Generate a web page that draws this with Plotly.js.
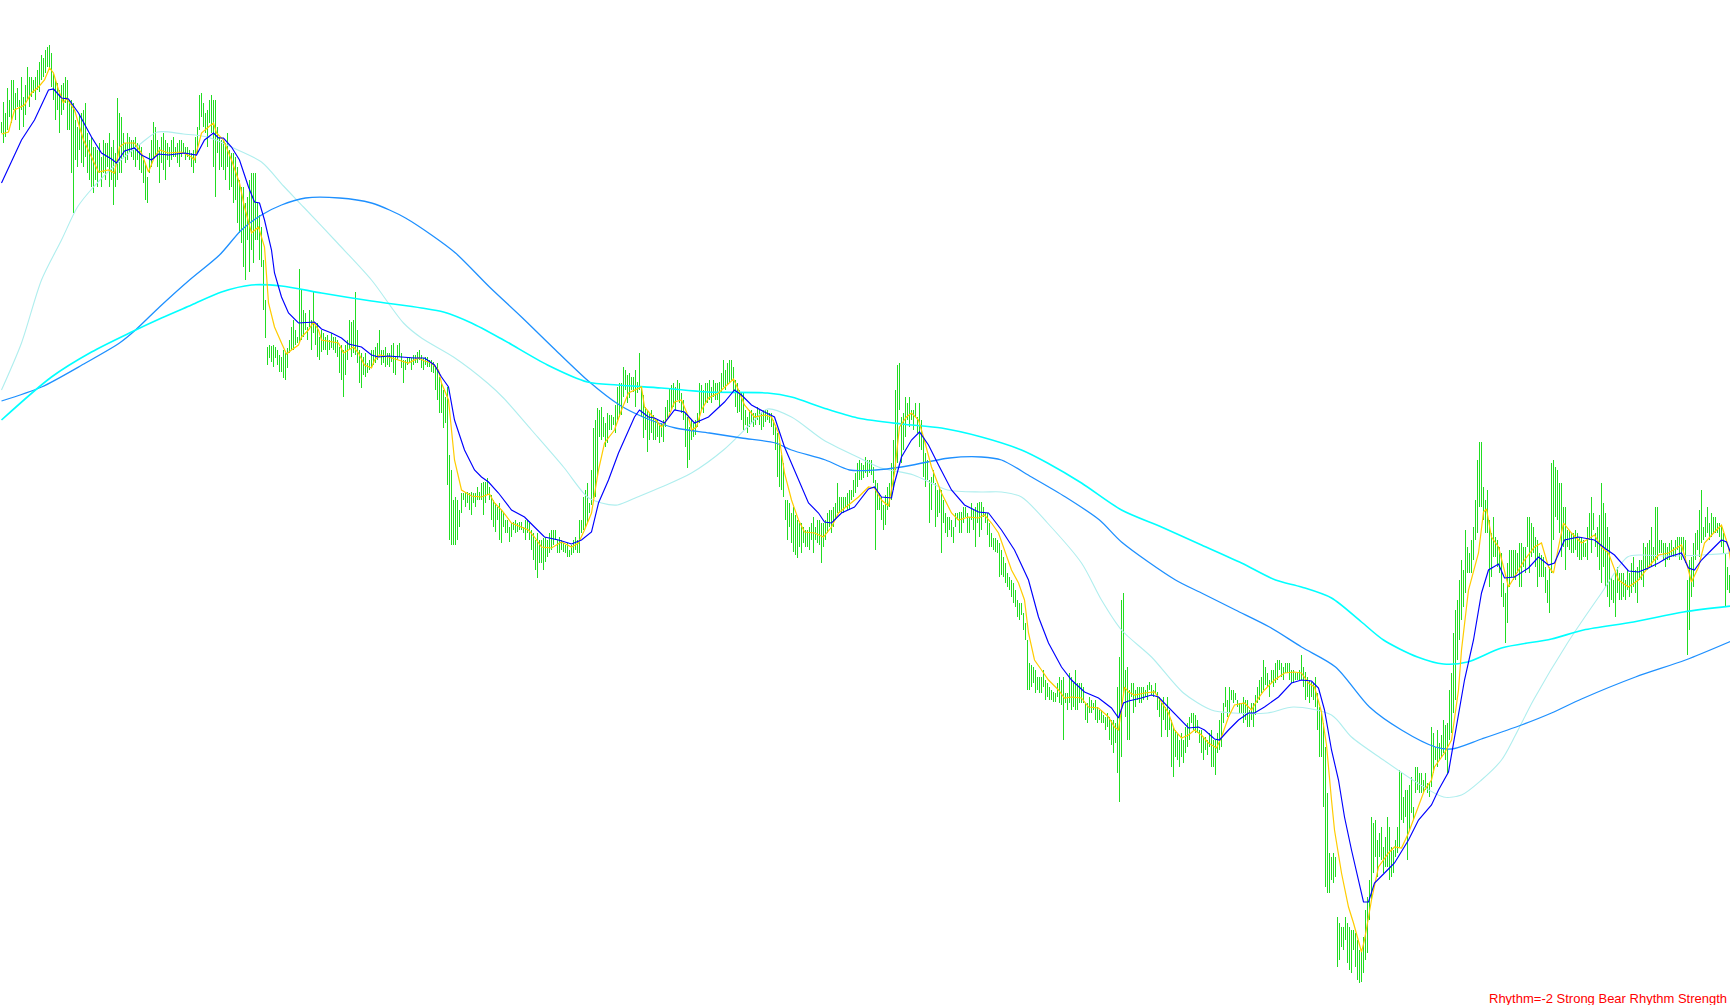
<!DOCTYPE html>
<html><head><meta charset="utf-8">
<script src="https://cdn.plot.ly/plotly-3.0.1.min.js"></script>
<style>html,body{margin:0;padding:0;background:#fff;overflow:hidden}#chart{width:1730px;height:1005px}
#chart .scatterlayer .trace:first-child path.js-line{shape-rendering:crispEdges}</style>
</head><body><div id="chart"></div>
<script>
// price bars: high / low for each bar (bar index = position in array)
const barHigh = [
878,898,887,912,900,920,920,907,912,900,
923,903,915,933,923,923,920,923,930,938,
945,942,950,953,955,947,927,920,917,910,
915,917,923,920,900,900,897,880,873,885,
887,890,897,867,860,863,853,853,850,857,
843,860,857,857,867,853,860,847,902,887,
883,867,857,867,863,860,860,863,857,855,
853,840,837,823,847,860,878,873,860,853,
863,867,860,857,853,860,863,853,857,860,
860,857,853,853,850,847,850,863,873,905,
907,897,887,890,900,905,900,900,873,863,
860,860,857,867,850,847,847,843,833,820,
813,813,797,803,820,827,827,827,797,785,
773,740,700,653,655,654,655,653,650,645,
643,650,647,652,660,673,680,670,663,731,
710,690,687,673,690,680,708,675,677,663,
670,667,663,665,660,667,663,663,660,653,
655,650,655,660,680,678,680,708,670,650,
647,643,647,637,640,650,650,653,657,670,
650,650,653,647,647,655,657,643,655,657,
647,640,640,643,643,642,645,645,648,650,
645,642,643,643,640,640,638,633,637,623,
617,610,603,613,545,530,500,503,500,490,
507,507,508,508,507,508,507,507,513,508,
517,518,518,522,513,505,500,497,493,497,
490,487,480,480,473,477,478,480,477,478,
478,473,480,480,477,470,467,460,467,460,
460,462,463,460,467,470,470,470,460,463,
460,457,455,457,450,455,460,463,460,480,
480,503,510,517,497,530,572,580,592,590,
593,583,577,587,585,585,583,595,613,617,
617,633,630,625,627,623,623,630,618,647,
613,605,593,590,587,590,585,580,580,577,
577,580,593,600,612,615,617,613,620,617,
607,600,587,583,573,580,577,580,587,617,
615,610,617,617,620,613,620,617,617,618,
627,640,630,637,640,640,633,620,617,610,
607,607,590,583,590,590,587,587,593,590,
588,590,590,590,587,587,580,573,567,557,
545,537,500,500,497,487,493,485,480,477,
477,473,470,470,473,477,483,473,480,480,
477,477,480,487,490,490,493,497,517,503,
503,503,503,507,510,510,520,527,537,540,
537,535,543,540,540,540,533,520,517,507,
503,495,505,513,517,537,560,610,635,637,
583,587,603,597,603,590,590,597,583,597,
580,563,547,540,520,523,530,517,510,513,
510,500,487,483,483,480,473,487,487,488,
488,493,493,487,483,497,490,493,497,498,
498,493,487,487,477,467,462,462,460,457,
450,443,437,427,423,420,417,410,400,397,
397,387,377,360,337,335,333,330,323,323,
323,330,320,317,313,310,308,307,317,323,
320,323,307,307,327,323,317,330,317,317,
317,313,297,297,303,300,297,300,293,290,
290,285,283,287,283,280,280,277,313,343,
400,407,330,333,310,317,317,310,313,313,
313,313,310,315,318,315,310,317,308,303,
297,303,293,303,290,280,273,270,267,260,
267,260,273,277,283,287,287,285,280,270,
270,263,263,260,267,270,260,260,267,280,
287,297,313,300,313,310,310,307,300,297,
297,303,300,300,290,297,297,305,313,320,
323,340,333,327,320,330,330,337,340,340,
337,333,337,337,337,330,330,327,327,330,
345,333,328,323,320,318,317,323,307,293,
287,277,253,207,147,143,147,143,83,77,
73,73,83,77,73,70,70,67,60,50,
50,63,90,103,120,183,177,180,160,167,
173,153,163,183,173,153,150,160,173,230,
227,203,210,210,215,223,193,233,233,227,
227,220,227,217,217,273,267,253,270,257,
265,280,275,277,310,327,367,390,400,420,
440,430,470,453,447,460,473,500,540,558,
558,513,500,510,480,467,483,463,460,453,
447,417,407,437,450,450,450,450,447,457,
457,453,453,483,483,477,473,463,460,447,
445,443,433,420,433,537,540,533,530,517,
517,493,493,470,470,467,467,470,467,463,
463,460,457,473,487,503,487,467,473,485,
517,497,487,473,463,423,420,427,433,427,
427,427,420,430,427,437,443,430,433,440,
440,457,453,457,460,473,453,493,493,460,
460,457,457,453,457,460,453,460,463,463,
463,463,460,420,440,443,457,467,470,490,
510,473,483,493,477,487,483,483,477,477,
473,467,447,433,425];
const barLow = [
867,857,863,870,883,877,890,880,893,870,
890,873,885,900,893,903,907,900,910,908,
920,923,927,933,930,913,900,880,890,867,
885,890,897,870,870,827,787,840,833,850,
837,833,843,827,820,813,807,820,813,827,
813,827,820,833,813,820,795,813,820,827,
827,843,837,840,847,843,840,833,840,830,
827,817,800,797,827,833,840,843,833,817,
837,830,820,840,833,840,843,843,837,833,
843,847,840,843,840,833,827,837,847,870,
883,873,867,853,877,867,833,803,847,830,
833,830,820,833,810,813,797,800,777,767,
757,733,720,760,728,750,737,760,760,740,
733,690,662,635,642,638,633,642,635,628,
628,622,620,632,647,650,650,655,657,657,
660,663,670,660,673,650,667,655,643,640,
648,650,650,645,650,652,650,647,643,627,
620,603,625,640,650,643,647,645,637,617,
612,625,623,627,630,633,635,637,640,643,
635,637,633,635,633,638,627,625,640,643,
632,617,630,635,637,630,635,637,637,640,
632,630,635,633,633,628,627,610,600,587,
587,572,577,515,460,455,455,455,460,473,
487,500,493,497,490,485,497,493,500,500,
500,485,497,505,500,480,473,468,480,460,
457,473,467,467,458,463,470,467,468,470,
470,467,460,467,460,450,440,430,422,437,
437,430,438,443,447,450,455,460,447,447,
450,448,447,443,443,445,447,450,447,447,
467,470,473,478,487,495,502,503,523,563,
560,563,553,557,570,570,575,567,580,583,
585,603,610,597,602,610,608,593,607,610,
583,562,570,548,560,567,560,560,563,557,
563,558,573,582,588,590,593,590,600,597,
587,580,553,532,540,560,563,565,573,577,
590,587,597,597,600,597,603,600,600,593,
607,613,610,615,617,620,607,593,587,588,
580,570,575,567,573,577,573,575,580,575,
570,573,578,580,577,573,565,550,523,513,
510,503,480,460,473,457,448,445,442,453,
447,457,453,453,450,460,447,460,457,455,
437,453,460,467,473,467,473,480,487,487,
487,487,493,490,490,500,503,507,513,520,
520,522,527,523,527,525,517,450,490,490,
480,470,475,490,493,500,510,530,537,590,
537,550,563,580,573,580,570,583,567,553,
550,523,513,520,477,490,517,473,483,487,
447,477,467,463,470,463,457,473,480,467,
467,477,483,467,467,480,470,453,477,463,
470,483,477,465,453,453,450,448,447,423,
425,423,417,413,410,403,397,393,383,380,
385,370,360,310,310,313,317,307,310,307,
307,313,300,303,300,300,298,298,303,297,
295,260,297,290,297,290,293,290,290,297,
297,297,280,277,287,287,290,280,277,280,
277,277,270,273,260,255,247,257,227,198,
243,307,283,260,260,303,287,293,300,297,
297,300,303,300,310,305,303,307,290,283,
263,280,270,263,270,233,223,243,240,233,
243,237,247,253,260,277,270,267,267,257,
247,240,250,245,253,233,233,225,247,250,
253,277,293,283,287,300,297,300,293,287,
287,277,280,273,273,280,273,285,297,300,
307,310,315,313,303,317,313,317,320,330,
323,320,327,327,320,317,317,320,320,320,
320,313,300,303,297,303,300,293,270,243,
243,193,113,107,107,120,117,123,33,40,
53,50,60,37,30,27,50,33,20,17,
18,27,40,47,80,100,127,143,123,143,
140,127,133,133,120,123,127,143,147,153,
180,177,183,140,170,187,180,207,210,207,
207,207,210,207,203,213,227,240,233,240,
243,247,240,227,260,267,287,300,340,360,
380,393,407,427,427,427,440,460,467,493,
493,480,467,467,413,423,443,443,433,427,
403,393,357,377,413,423,420,420,427,413,
413,433,427,453,427,443,447,433,413,423,
423,423,407,397,387,427,460,483,480,467,
443,453,430,453,450,447,447,450,443,440,
440,443,443,440,460,447,470,453,443,430,
417,433,413,403,393,400,397,383,407,400,
400,403,400,410,403,407,413,407,397,420,
420,413,430,430,433,433,440,433,440,447,
447,440,433,440,440,443,443,443,450,440,
440,447,437,345,370,403,413,440,450,443,
457,460,463,467,460,463,467,467,467,463,
453,447,393,410,407];

// moving averages: [bar index, value]
const fastMa = [[0,866],[3.5,868],[6.5,890],[11.5,895],[15,907],[18.5,913],[21.5,920],[24,932],[26,927],[28.5,910],[31,897],[32.5,902],[36.5,890],[41,860],[45,843],[48.5,828],[53.5,830],[56.5,827],[59,853],[61.5,857],[66.5,857],[70,847],[73.5,828],[76.5,843],[79,850],[83.5,847],[90,848],[95,843],[96.5,840],[100,867],[103.5,873],[106,877],[107.5,867],[111,860],[115,840],[119,817],[121.5,793],[125,767],[128.5,773],[131.5,753],[133.5,697],[136.5,673],[140,657],[142.5,646],[145,650],[148.5,655],[150,663],[153.5,670],[156,678],[158.5,670],[160,660],[165,658],[168.5,657],[171,647],[173.5,650],[176,653],[178.5,647],[181.5,635],[185,632],[186.5,640],[189,645],[193.5,643],[200,639],[203.5,637],[208.5,642],[211.5,639],[215,637],[218.5,630],[220,617],[223.5,600],[225,570],[226.5,540],[230,510],[235,504],[240,503],[244,506],[246.5,497],[250,490],[255,477],[260,473],[263.5,470],[266.5,463],[270,453],[275,452],[280,458],[285,453],[288.5,457],[291.5,470],[295,487],[298.5,530],[301.5,557],[306.5,570],[310,590],[313.5,607],[316.5,610],[320,613],[321.5,593],[325,585],[330,573],[333.5,583],[336.5,598],[340,600],[343.5,583],[345,570],[347.5,573],[350,590],[353.5,602],[358.5,607],[363.5,617],[366,621],[368.5,610],[371.5,595],[376.5,583],[381.5,585],[385,583],[388.5,567],[391.5,527],[395,500],[398.5,480],[401.5,468],[406.5,467],[411,463],[415,473],[418.5,487],[423.5,495],[428.5,503],[433.5,513],[436.5,512],[440,500],[443.5,494],[446.5,527],[449,573],[452.5,583],[455,587],[458.5,580],[461,563],[465,533],[470,507],[475,487],[478.5,480],[483.5,483],[488.5,482],[491.5,485],[495,477],[498.5,467],[501.5,450],[505,430],[508.5,417],[511.5,400],[513.5,367],[516.5,340],[520,330],[523.5,320],[528.5,310],[531.5,302],[535,303],[540,302],[543.5,293],[548.5,292],[553.5,283],[556.5,273],[558.5,270],[560,293],[561.5,313],[563.5,308],[566.5,305],[571.5,307],[576.5,308],[580,298],[583.5,287],[586.5,270],[590,262],[593.5,265],[596.5,270],[600,265],[603.5,257],[607.5,252],[610,263],[613.5,283],[616.5,295],[621.5,297],[625,290],[628.5,302],[631.5,310],[636.5,320],[641.5,327],[646.5,328],[650,327],[653.5,317],[656.5,313],[660,288],[662.5,255],[665,200],[666.5,170],[670,127],[673.5,93],[676,77],[678.5,57],[680,48],[681.5,60],[685,100],[688.5,133],[693.5,147],[696.5,153],[700,152],[703.5,167],[706.5,183],[711.5,210],[715,220],[716.5,233],[721.5,247],[725,260],[728.5,310],[730,350],[733.5,410],[738.5,447],[741,488],[742.5,491],[745,463],[748.5,453],[753.5,413],[757.5,427],[761.5,440],[766.5,453],[770,457],[773.5,433],[776,427],[778.5,453],[781,477],[785,467],[790,457],[796.5,465],[800,453],[803.5,447],[808.5,420],[813.5,413],[818.5,420],[823.5,433],[828.5,445],[833.5,447],[840,455],[842.5,437],[845,418],[848.5,433],[851.5,457],[856.5,468],[860,475],[863.5,453],[865,433]];

const slowMa = [[0,817],[10,860],[16.5,880],[23.5,910],[26,911],[30,902],[33.5,901],[38.5,887],[45,863],[50,847],[55,841],[57.5,837],[61.5,849],[66.5,852],[70,845],[75,840],[78.5,846],[83.5,845],[91.5,847],[96,846],[97.5,845],[101.5,860],[106,867],[108.5,862],[111,862],[115,853],[119,840],[123.5,813],[126.5,798],[129,797],[131.5,780],[135,750],[136.5,727],[140,703],[143.5,687],[148.5,677],[153.5,678],[156.5,678],[160,671],[165,667],[170,662],[173.5,656],[180,653],[185,645],[188.5,643],[193.5,644],[200,643],[206.5,642],[211.5,642],[216.5,635],[220,623],[223.5,613],[226.5,580],[231.5,550],[236.5,530],[240,523],[243.5,518],[248.5,507],[255,490],[261.5,483],[266.5,473],[271.5,463],[278.5,460],[285,456],[290,460],[295,468],[298.5,497],[303.5,520],[308.5,547],[313.5,570],[316.5,583],[319,590],[323.5,583],[326.5,582],[331.5,577],[336.5,590],[341.5,588],[346.5,577],[353.5,583],[361.5,598],[366.5,610],[370,605],[375,595],[381.5,588],[386.5,583],[391.5,553],[398.5,520],[403.5,497],[408.5,487],[411.5,478],[415,477],[420,487],[426.5,493],[433.5,511],[436.5,513],[440,503],[445,502],[446.5,517],[450,543],[455,560],[459,568],[463.5,555],[468.5,535],[475,510],[481.5,495],[488.5,488],[493.5,487],[500,470],[506.5,450],[513.5,420],[518.5,383],[523.5,357],[530,333],[535,320],[541.5,308],[548.5,302],[555,292],[558.5,282],[561,297],[563.5,299],[570,302],[575,305],[578.5,303],[583.5,293],[588.5,283],[593.5,272],[598.5,273],[601.5,270],[606.5,261],[609,260],[613.5,270],[618.5,280],[623.5,287],[626.5,287],[631.5,293],[638.5,303],[645,317],[650,320],[655,319],[658.5,312],[661.5,290],[665,250],[668.5,220],[671.5,183],[675,150],[678.5,120],[681,98],[683.5,98],[686.5,117],[691.5,127],[696.5,137],[703.5,160],[708.5,180],[715,195],[718.5,210],[723.5,228],[726.5,263],[731.5,320],[736,360],[740,407],[743.5,430],[748.5,436],[751.5,422],[756.5,423],[763.5,432],[768.5,443],[773.5,435],[776.5,437],[781.5,460],[788.5,463],[796.5,460],[801.5,452],[806.5,445],[813.5,429],[818.5,428],[823.5,432],[828.5,437],[833.5,443],[840,447],[843.5,432],[846.5,430],[850,440],[855,450],[860,460],[862.5,458],[865,445]];

const midMa = [[0,610],[10,657],[20,720],[30,760],[38,793],[46,813],[58,837],[70,857],[78,868],[91,866],[103,863],[116,852],[130,838],[141,814],[151,793],[168,757],[185,720],[201,677],[210,662],[226,643],[243,617],[251,602],[265,570],[281,533],[293,503],[300,497],[308,495],[318,503],[330,513],[345,527],[361,550],[375,577],[383,591],[395,583],[411,560],[428,543],[440,532],[456,525],[473,510],[490,508],[500,508],[510,503],[523,477],[540,437],[550,400],[560,370],[575,343],[591,307],[605,290],[616,287],[633,287],[646,293],[665,285],[675,263],[691,240],[708,217],[721,203],[730,205],[740,220],[750,240],[757,265],[766,300],[783,357],[800,407],[813,443],[820,445],[833,444],[850,445],[865,447]];

const longMa = [[0,599],[20,613],[42,637],[59,657],[67,670],[79,693],[94,720],[109,745],[120,770],[130,785],[140,795],[152,802],[169,802],[185,797],[194,790],[202,782],[215,765],[227,747],[244,713],[260,683],[277,650],[294,618],[309,595],[322,582],[337,572],[354,567],[370,562],[387,557],[395,550],[412,540],[424,530],[437,530],[450,533],[474,542],[490,543],[500,540],[515,523],[532,503],[549,480],[560,458],[587,420],[600,407],[617,390],[634,373],[650,353],[667,333],[684,293],[700,270],[717,253],[725,251],[740,261],[760,275],[775,287],[790,301],[817,323],[842,340],[865,359]];

const trendMa = [[0,580],[25,623],[45,648],[65,668],[80,682],[95,695],[110,708],[125,715],[140,714],[160,707],[185,699],[210,692],[221,688],[235,677],[251,660],[273,635],[293,618],[308,615],[330,612],[353,608],[383,607],[395,603],[411,592],[428,582],[450,576],[470,572],[490,563],[510,550],[523,537],[540,517],[560,490],[580,473],[600,455],[620,437],[637,420],[650,413],[665,402],[680,378],[691,360],[708,343],[721,336],[733,338],[750,352],[775,361],[791,370],[816,378],[841,388],[865,394]];

const statusText = "Rhythm=-2 Strong Bear Rhythm Strength";

// build bar segments
const barX = [], barY = [];
for (let i = 0; i < barHigh.length; i++) {
  barX.push(i, i, null);
  barY.push(barLow[i], barHigh[i], null);
}
function maTrace(pts, color, width, shape) {
  return {
    type: 'scatter', mode: 'lines', hoverinfo: 'skip',
    x: pts.map(p => p[0]), y: pts.map(p => p[1]),
    line: {color: color, width: width, shape: shape || 'linear', smoothing: 0.8}
  };
}
const traces = [
  {type: 'scatter', mode: 'lines', x: barX, y: barY, hoverinfo: 'skip',
   line: {color: '#22DD22', width: 1}},
  maTrace(midMa, '#AFEEEE', 1.1, 'spline'),
  maTrace(longMa, '#1E90FF', 1.3, 'spline'),
  maTrace(trendMa, '#00FFFF', 1.6, 'spline'),
  maTrace(fastMa, '#FFCC00', 1.2),
  maTrace(slowMa, '#0000FF', 1.15)
];
const layout = {
  width: 1730, height: 1005,
  margin: {l: 0, r: 0, t: 0, b: 0, pad: 0},
  paper_bgcolor: '#FFFFFF', plot_bgcolor: '#FFFFFF',
  showlegend: false,
  xaxis: {range: [-0.75, 864.25], visible: false, showgrid: false, zeroline: false, fixedrange: true},
  yaxis: {range: [-5, 1000], visible: false, showgrid: false, zeroline: false, fixedrange: true},
  annotations: [{
    text: statusText, xref: 'paper', yref: 'paper',
    x: 1, y: 0, xanchor: 'right', yanchor: 'bottom', xshift: -1, yshift: -3,
    showarrow: false, align: 'left',
    font: {family: 'Liberation Sans, Arial, sans-serif', size: 13, color: '#FF0000'}
  }]
};
Plotly.newPlot('chart', traces, layout, {staticPlot: true, displayModeBar: false});
</script></body></html>
